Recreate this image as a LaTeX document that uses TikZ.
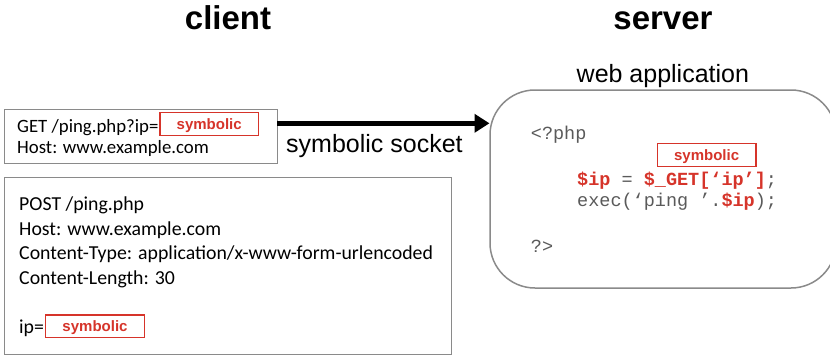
\documentclass[tikz,border=0pt]{standalone}
\usepackage{fontspec}
\setmainfont{Carlito}
\newfontfamily\helv{Liberation Sans}
\newfontfamily\codefont{Liberation Mono}
\usetikzlibrary{arrows.meta}

\definecolor{symred}{RGB}{214,52,42}
\definecolor{framegray}{RGB}{138,138,138}
\definecolor{codegray}{RGB}{90,90,90}

\tikzset{
  title/.style={font=\helv\fontsize{33}{36}\selectfont\bfseries, anchor=base, inner sep=0pt},
  reqtext/.style={font=\fontsize{18.8}{21}\selectfont, anchor=base west, inner sep=0pt},
  posttext/.style={font=\fontsize{19.8}{23}\selectfont, anchor=base west, inner sep=0pt},
  label/.style={font=\helv\fontsize{25}{28}\selectfont, anchor=base west, inner sep=0pt},
  code/.style={font=\codefont\fontsize{18.5}{21}\selectfont, text=codegray, anchor=base west, inner sep=0pt},
  frame/.style={draw=framegray, line width=1.5pt, fill=white},
  symbox/.style={draw=symred, line width=1.5pt},
  symtext/.style={font=\helv\fontsize{15}{17}\selectfont\bfseries, text=symred, anchor=base, inner sep=0pt},
  socket/.style={line width=5pt, -{Triangle[length=15pt,width=18pt]}},
}

\newcommand{\hot}[1]{\textcolor{symred}{\bfseries #1}}

\begin{document}
\begin{tikzpicture}[x=1pt,y=-1pt]
  \clip (0,0) rectangle (830,356);
  \fill[white] (0,0) rectangle (830,356);

  % headings
  \node[title] (client) at (228,29) {client};
  \node[title] (server) at (663,29) {server};

  % GET request
  \draw[frame] (4.7,109.5) rectangle (277.3,163.5);
  \coordinate (getbox) at (277.3,123.3);
  \node[reqtext] (get1) at (17,132) {GET /ping.php?ip=};
  \node[reqtext] (get2) at (17,153) {Host: www.example.com};
  \draw[symbox] (160,112.5) rectangle (258.5,135.7);
  \node[symtext] (getsym) at (209.2,129.5) {symbolic};

  % POST request
  \draw[frame] (4.7,177.5) rectangle (451.7,354.3);
  \node[posttext] (post1) at (19,210.7) {POST /ping.php};
  \node[posttext] (post2) at (19,235) {Host: www.example.com};
  \node[posttext] (post3) at (19,259.3) {Content-Type: application/x-www-form-urlencoded};
  \node[posttext] (post4) at (19,284) {Content-Length: 30};
  \node[posttext] (post5) at (19,333) {ip=};
  \draw[symbox] (45.7,315) rectangle (144.3,337.7);
  \node[symtext] (postsym) at (95,331.5) {symbolic};

  % web application
  \node[label] (webapp) at (576.5,82) {web application};
  \draw[frame, rounded corners=45pt] (490,90) rectangle (836,288);
  \coordinate (appin) at (489.5,123.3);

  % socket connection
  \draw[socket] (getbox) -- (appin);
  \node[label] (socket) at (286,152.3) {symbolic socket};

  % PHP source
  \node[code] (php1) at (530.7,139.5) {<?php};
  \draw[symbox] (657.3,143.3) rectangle (756,166.7);
  \node[symtext] (appsym) at (706.6,160.8) {symbolic};
  \node[code] (php2) at (577,185) {\hot{\$ip} = \hot{\$\_GET[‘ip’]};};
  \node[code] (php3) at (577,206.7) {exec(‘ping ’.\hot{\$ip});};
  \node[code] (php4) at (530.7,252) {?>};
\end{tikzpicture}
\end{document}
